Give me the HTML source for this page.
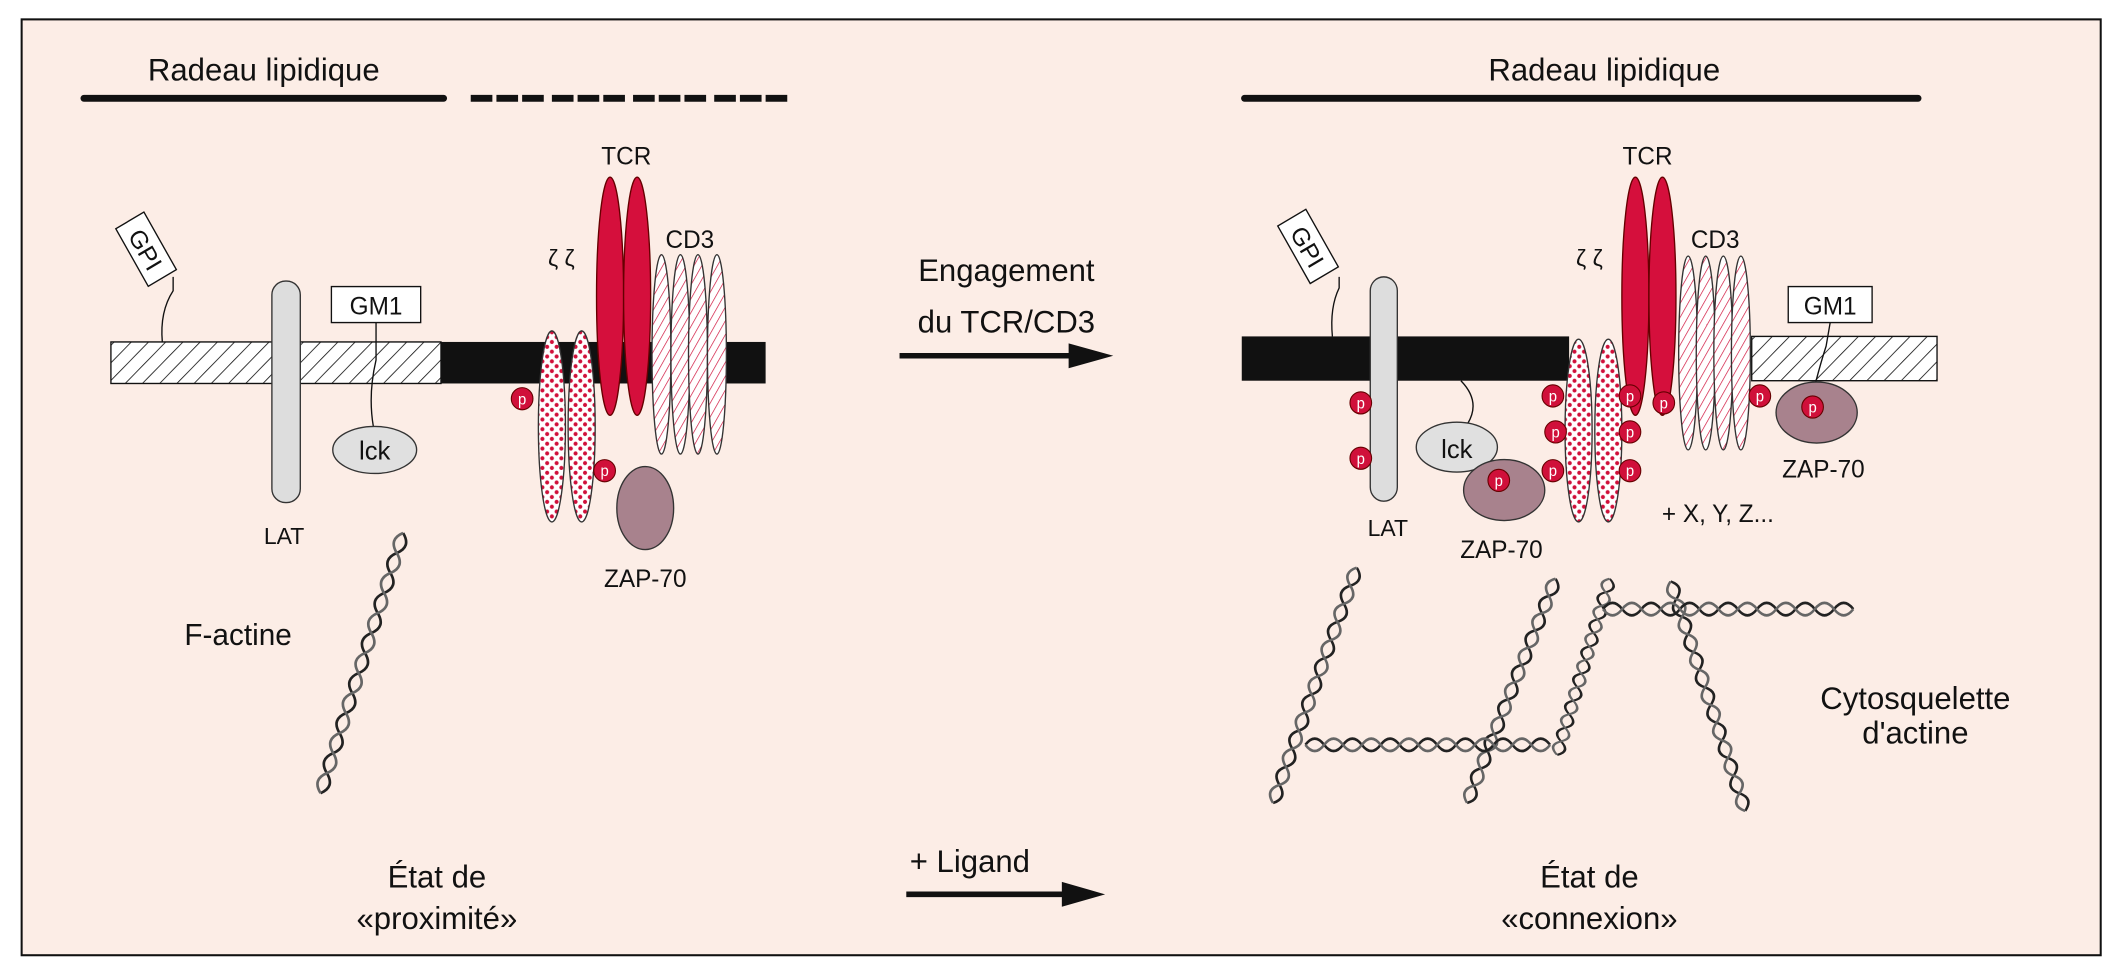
<!DOCTYPE html>
<html><head><meta charset="utf-8"><style>
html,body{margin:0;padding:0;background:#fff}
svg{display:block}
text{font-family:"Liberation Sans",sans-serif;fill:#111}
</style></head><body>
<svg width="2121" height="976" viewBox="0 0 1568 705" preserveAspectRatio="none" xmlns="http://www.w3.org/2000/svg">
<defs>
<pattern id="hatch" width="9" height="9" patternUnits="userSpaceOnUse" patternTransform="rotate(45)">
<rect width="9" height="9" fill="#fff"/><line x1="0" y1="0" x2="0" y2="9" stroke="#111" stroke-width="1.2"/></pattern>
<pattern id="rhatch" width="5" height="5" patternUnits="userSpaceOnUse" patternTransform="rotate(30)">
<rect width="5" height="5" fill="#fff"/><line x1="0" y1="0" x2="0" y2="5" stroke="#d0103a" stroke-width="1"/></pattern>
<pattern id="dots" width="7" height="7" patternUnits="userSpaceOnUse">
<rect width="7" height="7" fill="#fff"/><circle cx="2" cy="2" r="1.5" fill="#d0103a"/><circle cx="5.5" cy="5.5" r="1.5" fill="#d0103a"/></pattern>
<g id="strand">
<path d="M0 0 Q8 -9 16 0 T32 0 T48 0 T64 0 T80 0 T96 0 T112 0 T128 0 T144 0 T160 0 T176 0 T192 0 T208 0" fill="none" stroke="#222" stroke-width="2"/>
<path d="M0 0 Q8 9 16 0 T32 0 T48 0 T64 0 T80 0 T96 0 T112 0 T128 0 T144 0 T160 0 T176 0 T192 0 T208 0" fill="none" stroke="#666" stroke-width="2"/>
</g>
<g id="p"><circle r="8" fill="#d0103a" stroke="#600" stroke-width="0.8"/><text y="4" text-anchor="middle" font-size="11" style="fill:#fff">p</text></g>
</defs>
<rect x="0" y="0" width="1568" height="705" fill="#fff"/>
<rect x="16" y="14" width="1537" height="676" fill="#fcede6" stroke="#111" stroke-width="1.5"/>

<text x="195" y="58" font-size="23" text-anchor="middle">Radeau lipidique</text>
<line x1="62" y1="71" x2="328" y2="71" stroke="#111" stroke-width="5" stroke-linecap="round"/>
<line x1="348" y1="71" x2="583" y2="71" stroke="#111" stroke-width="5" stroke-dasharray="16,3,16,3,16,6"/>
<text x="1186" y="58" font-size="23" text-anchor="middle">Radeau lipidique</text>
<line x1="920" y1="71" x2="1418" y2="71" stroke="#111" stroke-width="5" stroke-linecap="round"/>

<!-- LEFT -->
<rect x="82" y="247" width="244" height="30" fill="url(#hatch)" stroke="#111"/>
<rect x="326" y="247" width="240" height="30" fill="#111"/>
<path d="M120 247 Q118 225 128 210 L128 200" fill="none" stroke="#111"/>
<g transform="translate(108,180) rotate(60)"><rect x="-24" y="-12" width="48" height="24" fill="#fff" stroke="#111"/><text x="0" y="7" font-size="18" text-anchor="middle">GPI</text></g>
<rect x="201" y="203" width="21" height="160" rx="10" fill="#ddd" stroke="#333"/>
<text x="210" y="393" font-size="17" text-anchor="middle">LAT</text>
<path d="M278 233 L278 260 Q272 285 276 308" fill="none" stroke="#111"/>
<rect x="245" y="207" width="66" height="26" fill="#fff" stroke="#111"/>
<text x="278" y="227" font-size="18" text-anchor="middle">GM1</text>
<ellipse cx="277" cy="325" rx="31" ry="17" fill="#e0e0e0" stroke="#333"/>
<text x="277" y="332" font-size="19" text-anchor="middle">lck</text>
<text x="415" y="192" font-size="17" text-anchor="middle">ζ ζ</text>
<ellipse cx="408" cy="308" rx="10" ry="69" fill="url(#dots)" stroke="#333"/>
<ellipse cx="430" cy="308" rx="10" ry="69" fill="url(#dots)" stroke="#333"/>
<ellipse cx="451" cy="214" rx="10" ry="86" fill="#d50f3c" stroke="#600"/>
<ellipse cx="471" cy="214" rx="10" ry="86" fill="#d50f3c" stroke="#600"/>
<text x="463" y="119" font-size="18" text-anchor="middle">TCR</text>
<ellipse cx="489" cy="256" rx="7" ry="72" fill="url(#rhatch)" stroke="#333"/>
<ellipse cx="503" cy="256" rx="7" ry="72" fill="url(#rhatch)" stroke="#333"/>
<ellipse cx="516" cy="256" rx="7" ry="72" fill="url(#rhatch)" stroke="#333"/>
<ellipse cx="530" cy="256" rx="7" ry="72" fill="url(#rhatch)" stroke="#333"/>
<text x="510" y="179" font-size="18" text-anchor="middle">CD3</text>
<use href="#p" x="386" y="288"/><use href="#p" x="447" y="340"/>
<ellipse cx="477" cy="367" rx="21" ry="30" fill="#a8828d" stroke="#333"/>
<text x="477" y="424" font-size="18" text-anchor="middle">ZAP-70</text>
<text x="176" y="466" font-size="22" text-anchor="middle">F-actine</text>
<use href="#strand" transform="translate(298,385) rotate(108) scale(0.95,1)"/>

<text x="744" y="203" font-size="23" text-anchor="middle">Engagement</text>
<text x="744" y="240" font-size="23" text-anchor="middle">du TCR/CD3</text>
<line x1="665" y1="257" x2="795" y2="257" stroke="#111" stroke-width="4"/>
<polygon points="790,248 823,257 790,266" fill="#111"/>
<text x="717" y="630" font-size="23" text-anchor="middle">+ Ligand</text>
<line x1="670" y1="646" x2="790" y2="646" stroke="#111" stroke-width="4"/>
<polygon points="785,637 817,646 785,655" fill="#111"/>
<text x="323" y="641" font-size="23" text-anchor="middle">État de</text>
<text x="323" y="671" font-size="23" text-anchor="middle">«proximité»</text>
<text x="1175" y="641" font-size="23" text-anchor="middle">État de</text>
<text x="1175" y="671" font-size="23" text-anchor="middle">«connexion»</text>

<!-- RIGHT -->
<rect x="918" y="243" width="242" height="32" fill="#111"/>
<rect x="1295" y="243" width="137" height="32" fill="url(#hatch)" stroke="#111"/>
<path d="M985 243 Q983 222 990 208 L990 200" fill="none" stroke="#111"/>
<g transform="translate(967,178) rotate(60)"><rect x="-24" y="-12" width="48" height="24" fill="#fff" stroke="#111"/><text x="0" y="7" font-size="18" text-anchor="middle">GPI</text></g>
<rect x="1013" y="200" width="20" height="162" rx="10" fill="#ddd" stroke="#333"/>
<text x="1026" y="387" font-size="17" text-anchor="middle">LAT</text>
<path d="M1080 275 Q1095 290 1085 306" fill="none" stroke="#111"/>
<ellipse cx="1077" cy="323" rx="30" ry="18" fill="#e0e0e0" stroke="#333"/>
<text x="1077" y="331" font-size="19" text-anchor="middle">lck</text>
<ellipse cx="1112" cy="354" rx="30" ry="22" fill="#a8828d" stroke="#333"/>
<text x="1110" y="403" font-size="18" text-anchor="middle">ZAP-70</text>
<text x="1175" y="192" font-size="17" text-anchor="middle">ζ ζ</text>
<ellipse cx="1167" cy="311" rx="10" ry="66" fill="url(#dots)" stroke="#333"/>
<ellipse cx="1189" cy="311" rx="10" ry="66" fill="url(#dots)" stroke="#333"/>
<ellipse cx="1209" cy="214" rx="10" ry="86" fill="#d50f3c" stroke="#600"/>
<ellipse cx="1229" cy="214" rx="10" ry="86" fill="#d50f3c" stroke="#600"/>
<text x="1218" y="119" font-size="18" text-anchor="middle">TCR</text>
<ellipse cx="1248" cy="255" rx="7" ry="70" fill="url(#rhatch)" stroke="#333"/>
<ellipse cx="1261" cy="255" rx="7" ry="70" fill="url(#rhatch)" stroke="#333"/>
<ellipse cx="1274" cy="255" rx="7" ry="70" fill="url(#rhatch)" stroke="#333"/>
<ellipse cx="1287" cy="255" rx="7" ry="70" fill="url(#rhatch)" stroke="#333"/>
<text x="1268" y="179" font-size="18" text-anchor="middle">CD3</text>
<path d="M1353 233 L1350 250 Q1345 265 1340 285" fill="none" stroke="#111"/>
<rect x="1322" y="207" width="62" height="26" fill="#fff" stroke="#111"/>
<text x="1353" y="227" font-size="18" text-anchor="middle">GM1</text>
<ellipse cx="1343" cy="298" rx="30" ry="22" fill="#a8828d" stroke="#333"/>
<text x="1348" y="345" font-size="18" text-anchor="middle">ZAP-70</text>
<use href="#p" x="1006" y="291"/><use href="#p" x="1006" y="331"/>
<use href="#p" x="1148" y="286"/><use href="#p" x="1205" y="286"/>
<use href="#p" x="1230" y="291"/><use href="#p" x="1301" y="286"/>
<use href="#p" x="1340" y="294"/><use href="#p" x="1150" y="312"/>
<use href="#p" x="1205" y="312"/><use href="#p" x="1148" y="340"/>
<use href="#p" x="1205" y="340"/><use href="#p" x="1108" y="347"/>
<text x="1270" y="377" font-size="18" text-anchor="middle">+ X, Y, Z...</text>
<text x="1416" y="512" font-size="23" text-anchor="middle">Cytosquelette</text>
<text x="1416" y="537" font-size="23" text-anchor="middle">d'actine</text>
<use href="#strand" transform="translate(1003,410) rotate(110) scale(0.87,1)"/>
<use href="#strand" transform="translate(1150,418) rotate(112) scale(0.84,1)"/>
<use href="#strand" transform="translate(1190,418) rotate(107) scale(0.64,1)"/>
<use href="#strand" transform="translate(1235,420) rotate(71.6) scale(0.84,1)"/>
<use href="#strand" transform="translate(965,538) scale(0.87,1)"/>
<use href="#strand" transform="translate(1185,440) scale(0.89,1)"/>
</svg>
</body></html>
